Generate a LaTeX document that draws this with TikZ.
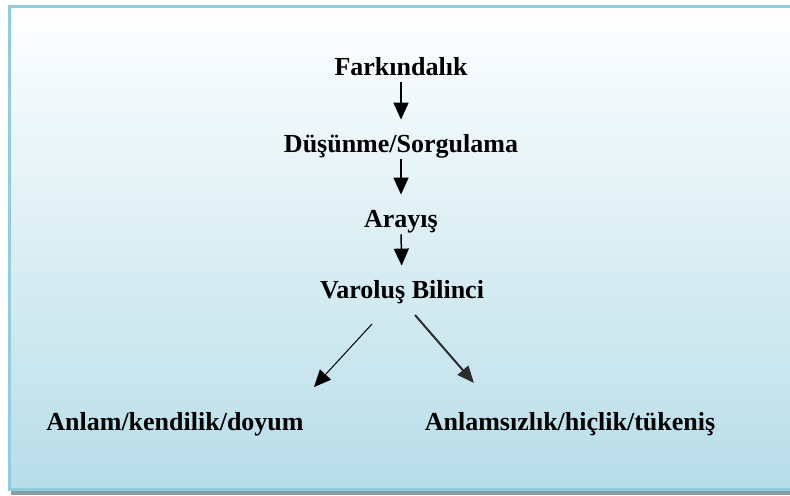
\documentclass[tikz,border=0pt]{standalone}
\usepackage{fontspec}
\setmainfont{Liberation Serif}
\usetikzlibrary{arrows.meta}
\definecolor{bordercol}{RGB}{146,205,221}
\definecolor{bottomcol}{RGB}{183,221,232}
\definecolor{midcol}{RGB}{220,238,244}
\definecolor{shadowcol}{RGB}{135,158,166}
\definecolor{darkarrow}{RGB}{45,45,45}
\begin{document}
\begin{tikzpicture}[x=0.5pt,y=-0.5pt,
  lbl/.style={font=\fontsize{13}{15}\selectfont\bfseries, inner sep=0pt,
              text height=8.5pt, text depth=2.5pt, anchor=base},
  vert/.style={-{Triangle[length=8.5pt,width=7.5pt]}, line width=0.75pt,
               shorten <=1pt, shorten >=7.5pt},
  leftdiag/.style={-{Triangle[length=8.5pt,width=7.5pt]}, line width=0.5pt},
  rightdiag/.style={-{Triangle[length=8.5pt,width=7pt]}, line width=1pt, draw=darkarrow, fill=darkarrow}]
\useasboundingbox (0,0) rectangle (790,495);
\fill[white] (0,0) rectangle (790,495);
% shadow
\fill[shadowcol] (11,490) rectangle (790,495);
% panel
\shade[top color=white, middle color=midcol, bottom color=bottomcol] (10,6) rectangle (790,490);
\draw[bordercol, line width=1.5pt] (790,6) -- (9.5,6) -- (9.5,489.5) -- (790,489.5);
% labels
\node[lbl] (f) at (401,75) {Farkındalık};
\node[lbl] (d) at (401,152) {Düşünme/Sorgulama};
\node[lbl] (a) at (401,227) {Arayış};
\node[lbl] (v) at (402,298) {Varoluş Bilinci};
\node[lbl] (l) at (175,430) {Anlam/kendilik/doyum};
\node[lbl] (r) at (570,430) {Anlamsızlık/hiçlik/tükeniş};
% connectors
\draw[vert] (f.south) -- (d.north);
\draw[vert] (d.south) -- (a.north);
\draw[vert] (a.south) -- (v.north);
\coordinate (ls) at (372,324);
\coordinate (le) at (314,387);
\coordinate (rs) at (415,315);
\coordinate (re) at (474,383);
\draw[leftdiag] (ls) -- (le);
\draw[rightdiag] (rs) -- (re);
\end{tikzpicture}
\end{document}
